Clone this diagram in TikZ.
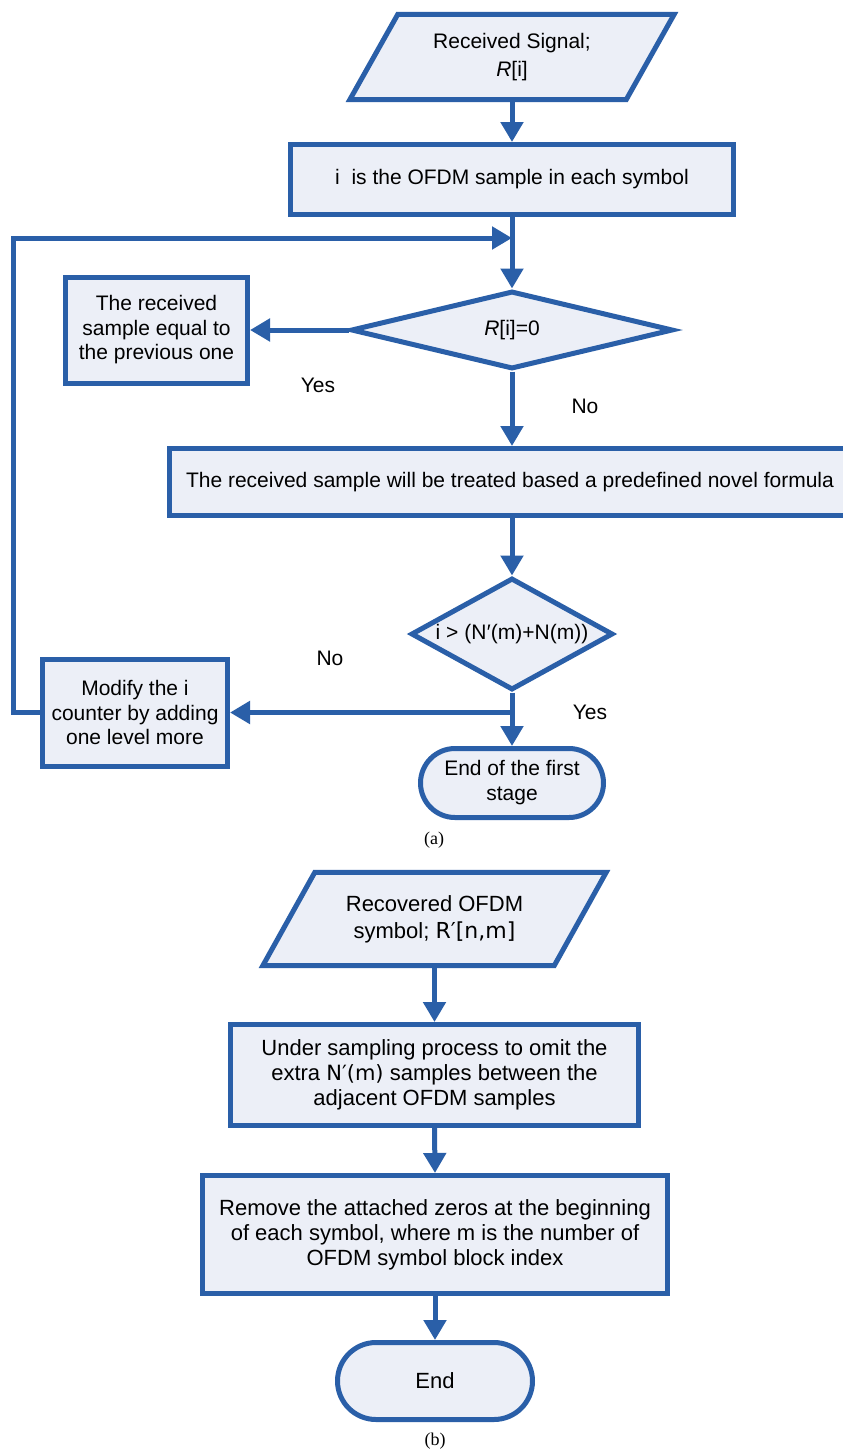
\documentclass[tikz,border=0pt]{standalone}
\usepackage{fontspec}
\setmainfont{Liberation Sans}
\newfontfamily\capfont{Liberation Serif}
\newfontfamily\dvfont{DejaVu Sans}
\usetikzlibrary{arrows.meta,shapes.geometric,shapes.misc}
\definecolor{fcline}{HTML}{2A5FA8}
\definecolor{fcfill}{HTML}{ECEFF7}
\tikzset{
  shp/.style={draw=fcline,line width=5pt,fill=fcfill,inner sep=0pt,align=center},
  boxa/.style={shp,rectangle,font=\fontsize{21}{24.5}\selectfont},
  boxb/.style={shp,rectangle,font=\fontsize{22}{25}\selectfont},
  txtonly/.style={inner sep=0pt,align=center},
  dia/.style={shp,diamond,font=\fontsize{21}{24}\selectfont},
  term/.style={shp,rounded rectangle},
  conn/.style={draw=fcline,line width=5pt},
  arr/.style={conn,-{Triangle[width=22pt,length=20pt]}},
  lbl/.style={inner sep=0pt,font=\fontsize{21}{24}\selectfont},
  captxt/.style={inner sep=0pt,font=\capfont\fontsize{18}{20}\selectfont}
}
\begin{document}
\begin{tikzpicture}[x=1pt,y=-1pt]
\useasboundingbox[fill=white] (0,0) rectangle (843,1452);
% ---------------- part (a)
\node[txtonly,minimum width=276pt,minimum height=85pt] (in1) at (512,57) {};
\filldraw[draw=fcline,fill=fcfill,line width=5pt,line join=miter]
  ([xshift=-24pt]in1.south west) -- ([xshift=-24pt]in1.south east)
  -- ([xshift=24pt]in1.north east) -- ([xshift=24pt]in1.north west) -- cycle;
\node[txtonly,font=\fontsize{21}{28}\selectfont] at (in1) {Received Signal;\\\textit{R}[i]};
\node[boxa,minimum width=443pt,minimum height=70pt] (b1) at (512,179.5) {i\ \ is the OFDM sample in each symbol};
\coordinate (m1) at (512,238);
\node[dia,aspect=4.1,minimum width=322pt,minimum height=78pt] (d1) at (512,330) {\textit{R}[i]=0};
\node[boxa,minimum width=182pt,minimum height=106pt] (bs) at (156.5,330) {The received\\sample equal to\\the previous one};
\node[boxa,minimum width=681pt,minimum height=67pt] (b2) at (510,482) {The received sample will be treated based a predefined novel formula};
\node[dia,aspect=1.8,minimum width=202pt,minimum height=112pt] (d2) at (512,634) {i > (N\kern0.5pt′(m)+N(m))};
\coordinate (j2) at (512,712.5);
\node[boxa,minimum width=185pt,minimum height=107pt] (bm) at (135,712.5) {Modify the i\\counter by adding\\one level more};
\node[term,minimum width=183pt,minimum height=69pt,font=\fontsize{21}{25}\selectfont] (t1) at (512,783) {End of the first\\stage};
\coordinate (lc1) at (13,712.5);
\coordinate (lc2) at (13,238);
% connectors (a)
\draw[arr] (in1.south -| b1.north) -- (b1.north);
\draw[arr] (b1.south) -- (d1.north);
\draw[arr] (bm.west) -- (lc1) -- (lc2) -- (m1);
\draw[arr] (d1.west) -- (bs.east);
\draw[arr] (d1.south) -- (b2.north -| d1.south);
\draw[arr] (b2.south -| d2.north) -- (d2.north);
\draw[arr] (d2.south) -- (t1.north);
\draw[arr] (j2) -- (bm.east);
\node[lbl] (ly1) at (318,385) {Yes};
\node[lbl] (ln1) at (585,406) {No};
\node[lbl] (ln2) at (330,658) {No};
\node[lbl] (ly2) at (590,712) {Yes};
\node[captxt] (capa) at (434,840) {(a)};
% ---------------- part (b)
\node[txtonly,minimum width=291pt,minimum height=93pt] (in2) at (434.5,919) {};
\filldraw[draw=fcline,fill=fcfill,line width=5pt,line join=miter]
  ([xshift=-26pt]in2.south west) -- ([xshift=-26pt]in2.south east)
  -- ([xshift=26pt]in2.north east) -- ([xshift=26pt]in2.north west) -- cycle;
\node[txtonly,font=\fontsize{22}{27}\selectfont] at (in2) {Recovered OFDM\\symbol; {\dvfont\fontsize{22}{27}\selectfont R′[n,m]}};
\node[boxb,minimum width=408pt,minimum height=101pt] (b3) at (434.5,1075) {Under sampling process to omit the\\extra {\dvfont\fontsize{21}{25}\selectfont N′(m)} samples between the\\adjacent OFDM samples};
\node[boxb,minimum width=465pt,minimum height=118pt] (b4) at (435,1234.5) {Remove the attached zeros at the beginning\\of each symbol, where m is the number of\\OFDM symbol block index};
\node[term,minimum width=195pt,minimum height=77pt,font=\fontsize{22}{25}\selectfont] (t2) at (435,1381) {End};
\node[captxt] (capb) at (435,1441) {(b)};
% connectors (b)
\draw[arr] (in2.south -| b3.north) -- (b3.north);
\draw[arr] (b3.south) -- (b4.north);
\draw[arr] (b4.south) -- (t2.north);
\end{tikzpicture}
\end{document}
